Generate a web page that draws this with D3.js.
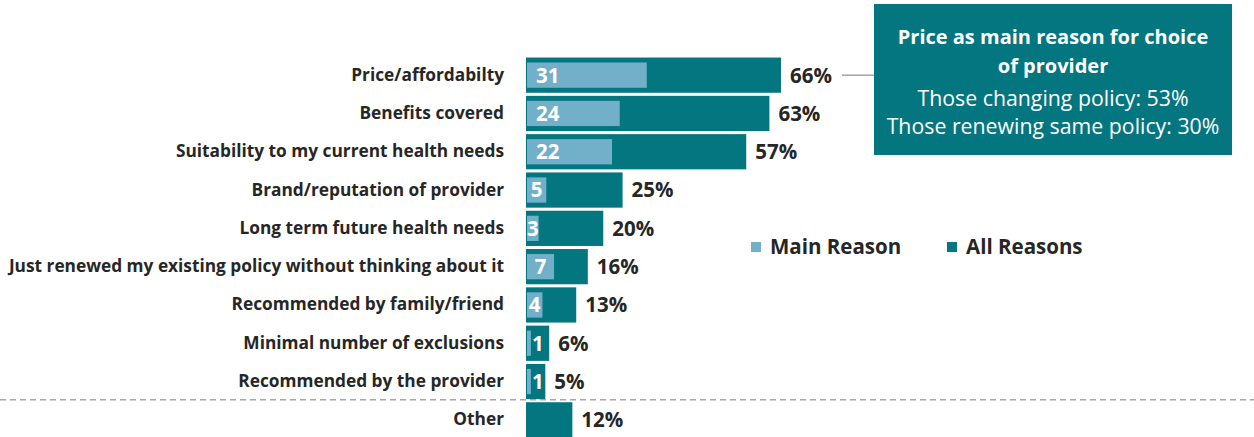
<!DOCTYPE html>
<html>
<head>
<meta charset="utf-8">
<script src="https://cdn.jsdelivr.net/npm/d3@7"></script>
<style>
  html, body { margin: 0; padding: 0; background: #fff; }
  svg { display: block; font-family: "Open Sans", sans-serif; }
</style>
</head>
<body>
<svg id="chart" width="1254" height="437"></svg>
<script>
// Reasons for choosing a health insurance provider
const categories = [
  "Price/affordabilty",
  "Benefits covered",
  "Suitability to my current health needs",
  "Brand/reputation of provider",
  "Long term future health needs",
  "Just renewed my existing policy without thinking about it",
  "Recommended by family/friend",
  "Minimal number of exclusions",
  "Recommended by the provider",
  "Other"
];
const allReasons = [66, 63, 57, 25, 20, 16, 13, 6, 5, 12];
const mainReason = [31, 24, 22, 5, 3, 7, 4, 1, 1, null];
const seriesNames = ["Main Reason", "All Reasons"];
const calloutLines = [
  "Price as main reason for choice",
  "of provider",
  "Those changing policy: 53%",
  "Those renewing same policy: 30%"
];

const darkTeal = "#037680";
const lightBlue = "#72B0C9";
const textColor = "#262626";

const svg = d3.select("#chart");

const x = d3.scaleLinear().domain([0, 66]).range([526, 781]);
const y = d3.scaleBand().domain(categories).range([56, 439]).paddingInner(0.08).paddingOuter(0.04);

const rows = svg.append("g").selectAll("g")
  .data(categories.map((c, i) => ({ c, all: allReasons[i], main: mainReason[i] })))
  .join("g");

// All reasons bars
rows.append("rect")
  .attr("x", x(0))
  .attr("y", d => y(d.c))
  .attr("width", d => x(d.all) - x(0))
  .attr("height", y.bandwidth())
  .attr("fill", darkTeal);

// Main reason bars, nested inside
const inset = 5;
rows.filter(d => d.main != null).append("rect")
  .attr("x", x(0) + 1)
  .attr("y", d => y(d.c) + inset)
  .attr("width", d => x(d.main) - x(0))
  .attr("height", y.bandwidth() - inset * 2)
  .attr("fill", lightBlue);

// Main reason value labels
rows.filter(d => d.main != null).append("text")
  .attr("x", d => {
    const w = x(d.main) - x(0);
    if (w > 60) return x(0) + 10;
    if (w < 6) return x(0) + 6;
    return x(0) + 1 + w / 2;
  })
  .attr("text-anchor", d => {
    const w = x(d.main) - x(0);
    return (w > 60 || w < 6) ? "start" : "middle";
  })
  .attr("y", d => y(d.c) + y.bandwidth() / 2)
  .attr("dy", "0.36em")
  .attr("fill", "#fff")
  .attr("font-weight", 700)
  .attr("font-size", 20.5)
  .text(d => d.main);

// All reasons value labels
rows.append("text")
  .attr("x", d => x(d.all) + 9)
  .attr("y", d => y(d.c) + y.bandwidth() / 2)
  .attr("dy", "0.36em")
  .attr("fill", textColor)
  .attr("font-weight", 700)
  .attr("font-size", 20.5)
  .text(d => d.all + "%");

// Category axis labels
const yAxis = d3.axisLeft(y).tickSize(0).tickPadding(22);
const ax = svg.append("g").attr("transform", `translate(${x(0)},0)`).call(yAxis);
ax.select(".domain").remove();
ax.selectAll("text")
  .attr("fill", textColor)
  .attr("font-weight", 700)
  .attr("font-size", 17.3)
  .attr("font-family", "'Open Sans', sans-serif");

// Divider between listed reasons and "Other"
const divY = y("Other") - (y.step() - y.bandwidth()) / 2 - 1;
svg.append("line")
  .attr("x1", 0).attr("x2", 1254)
  .attr("y1", divY).attr("y2", divY)
  .attr("stroke", "#a6a6a6")
  .attr("stroke-width", 1.5)
  .attr("stroke-dasharray", "6,4");

// Legend
const legend = svg.append("g").attr("transform", "translate(751,247)");
const legendItems = [
  { name: seriesNames[0], color: lightBlue, dx: 0 },
  { name: seriesNames[1], color: darkTeal, dx: 196 }
];
legendItems.forEach(it => {
  const g = legend.append("g").attr("transform", `translate(${it.dx},0)`);
  g.append("rect").attr("x", 0).attr("y", -5).attr("width", 10).attr("height", 10).attr("fill", it.color);
  g.append("text").attr("x", 19).attr("dy", "0.36em")
    .attr("fill", textColor).attr("font-weight", 700).attr("font-size", 20.5)
    .text(it.name);
});

// Callout for price
const box = { x: 874, y: 4, w: 358, h: 151 };
svg.append("line")
  .attr("x1", x(66) + 61).attr("x2", box.x)
  .attr("y1", y(categories[0]) + y.bandwidth() / 2)
  .attr("y2", y(categories[0]) + y.bandwidth() / 2)
  .attr("stroke", "#8c8c8c").attr("stroke-width", 1.2);
svg.append("rect")
  .attr("x", box.x).attr("y", box.y).attr("width", box.w).attr("height", box.h)
  .attr("fill", darkTeal);
const cx = box.x + box.w / 2;
const lineYs = [37, 66, 98, 126];
calloutLines.forEach((t, i) => {
  svg.append("text")
    .attr("x", cx).attr("y", lineYs[i])
    .attr("text-anchor", "middle")
    .attr("fill", "#fff")
    .attr("font-weight", i < 2 ? 700 : 400)
    .attr("font-size", i < 2 ? 20 : 21.3)
    .attr("dy", "0.36em")
    .text(t);
});
</script>
</body>
</html>
